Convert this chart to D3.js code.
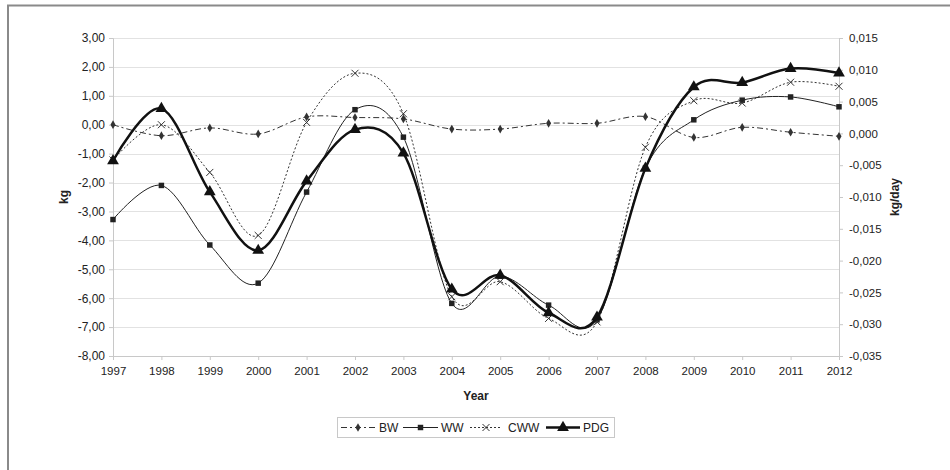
<!DOCTYPE html>
<html>
<head>
<meta charset="utf-8">
<script src="https://cdn.jsdelivr.net/npm/d3@7"></script>
<style>
  body { margin: 0; background: #fff; }
  svg { font-family: "Liberation Sans", Arial, sans-serif; }
</style>
</head>
<body>
<svg id="chart" width="950" height="470"></svg>
<script>
const years = [1997, 1998, 1999, 2000, 2001, 2002, 2003, 2004, 2005, 2006, 2007, 2008, 2009, 2010, 2011, 2012];

// kg (left axis)
const bw  = [0.00, -0.38, -0.11, -0.32, 0.27, 0.25, 0.20, -0.15, -0.15, 0.05, 0.05, 0.28, -0.44, -0.09, -0.26, -0.40];
const ww  = [-3.28, -2.10, -4.16, -5.48, -2.33, 0.52, -0.43, -6.18, -5.24, -6.24, -6.75, -1.50, 0.17, 0.85, 0.96, 0.62];
const cww = [-1.22, 0.00, -1.65, -3.83, 0.08, 1.78, 0.38, -5.95, -5.43, -6.70, -6.82, -0.78, 0.83, 0.75, 1.47, 1.33];
// kg/day (right axis)
const pdg = [-0.0043, 0.0039, -0.0092, -0.0184, -0.0075, 0.0006, -0.0031, -0.0245, -0.0223, -0.0282, -0.0289, -0.0055, 0.0073, 0.0080, 0.0102, 0.0095];

const leftTicks = d3.range(-8, 3.01, 1);
const rightTicks = d3.range(-0.035, 0.0151, 0.005);

const margin = { top: 38, left: 113, right: 111, bottom: 114 };
const width = 950, height = 470;
const innerW = width - margin.left - margin.right;
const innerH = height - margin.top - margin.bottom;

const svg = d3.select('#chart');

// outer frame (left and top edges visible)
svg.append('path')
  .attr('d', `M8,470 V5.5 H950`)
  .attr('fill', 'none')
  .attr('stroke', '#8a8a8a')
  .attr('stroke-width', 2);

const g = svg.append('g').attr('transform', `translate(${margin.left},${margin.top})`);

const x = d3.scaleLinear().domain([1997, 2012]).range([0, innerW]);
const yL = d3.scaleLinear().domain([-8, 3]).range([innerH, 0]);
const yR = d3.scaleLinear().domain([-0.035, 0.015]).range([innerH, 0]);

const fmt2 = v => d3.format('.2f')(v).replace('.', ',').replace('−', '-');
const fmt3 = v => d3.format('.3f')(Math.abs(v) < 1e-9 ? 0 : v).replace('.', ',').replace('−', '-');

// gridlines
g.append('g').selectAll('line')
  .data(leftTicks.filter(t => t > -8))
  .join('line')
  .attr('x1', 0).attr('x2', innerW)
  .attr('y1', d => Math.round(yL(d)) + 0.5).attr('y2', d => Math.round(yL(d)) + 0.5)
  .attr('stroke', '#e2e2e2');

// axes
const axL = g.append('g')
  .call(d3.axisLeft(yL).tickValues(leftTicks).tickFormat(fmt2).tickSize(4).tickPadding(4));
const axR = g.append('g').attr('transform', `translate(${innerW},0)`)
  .call(d3.axisRight(yR).tickValues(rightTicks).tickFormat(fmt3).tickSize(4).tickPadding(6));
const axB = g.append('g').attr('transform', `translate(0,${innerH})`)
  .call(d3.axisBottom(x).tickValues(years).tickFormat(d3.format('d')).tickSize(4).tickPadding(7));

[axL, axR, axB].forEach(a => {
  a.select('.domain').attr('stroke', '#c8c8c8');
  a.selectAll('.tick line').attr('stroke', '#c8c8c8');
  a.selectAll('text').attr('fill', '#222').style('font-size', '11.5px');
});
axL.selectAll('text').style('font-size', '12px');

// axis titles
g.append('text')
  .attr('transform', `translate(${-45},${innerH / 2}) rotate(-90)`)
  .attr('text-anchor', 'middle')
  .style('font-size', '12px').style('font-weight', 'bold').attr('fill', '#222')
  .text('kg');
g.append('text')
  .attr('transform', `translate(${innerW + 60},${innerH / 2}) rotate(-90)`)
  .attr('text-anchor', 'middle')
  .style('font-size', '12px').style('font-weight', 'bold').attr('fill', '#222')
  .text('kg/day');
g.append('text')
  .attr('x', innerW / 2).attr('y', innerH + 44)
  .attr('text-anchor', 'middle')
  .style('font-size', '12px').style('font-weight', 'bold').attr('fill', '#222')
  .text('Year');

// series
const series = [
  { name: 'BW', values: bw, y: yL, dash: '6,3,2,3', width: 1, color: '#333', symbol: d3.symbolDiamond, size: 22 },
  { name: 'WW', values: ww, y: yL, dash: null, width: 1, color: '#222', symbol: d3.symbolSquare, size: 30 },
  { name: 'CWW', values: cww, y: yL, dash: '2,2', width: 1, color: '#333', symbol: 'x', size: 3.5 },
  { name: 'PDG', values: pdg, y: yR, dash: null, width: 2.5, color: '#111', symbol: d3.symbolTriangle, size: 60 }
];

function drawMarker(sel, s) {
  if (s.symbol === 'x') {
    const r = s.size;
    sel.append('path')
      .attr('d', `M${-r},${-r}L${r},${r}M${-r},${r}L${r},${-r}`)
      .attr('stroke', s.color).attr('stroke-width', 1).attr('fill', 'none');
  } else {
    sel.append('path')
      .attr('d', d3.symbol().type(s.symbol).size(s.size)())
      .attr('fill', s.color);
  }
}

series.forEach(s => {
  const line = d3.line()
    .x((d, i) => x(years[i]))
    .y(d => s.y(d))
    .curve(d3.curveCardinal.tension(0));
  g.append('path')
    .datum(s.values)
    .attr('d', line)
    .attr('fill', 'none')
    .attr('stroke', s.color)
    .attr('stroke-width', s.width)
    .attr('stroke-dasharray', s.dash);
  g.append('g').selectAll('g')
    .data(s.values)
    .join('g')
    .attr('transform', (d, i) => `translate(${x(years[i])},${s.y(d)})`)
    .each(function () { drawMarker(d3.select(this), s); });
});

// legend
const legend = svg.append('g').attr('transform', 'translate(337,417)');
legend.append('rect')
  .attr('x', 0.5).attr('y', 0.5).attr('width', 277).attr('height', 20)
  .attr('fill', '#fff').attr('stroke', '#c8c8c8');
const legendPos = [
  { x1: 4, x2: 38, tx: 42 },
  { x1: 66, x2: 101, tx: 104 },
  { x1: 133, x2: 165, tx: 171 },
  { x1: 209, x2: 243, tx: 246 }
];
series.forEach((s, i) => {
  const p = legendPos[i];
  const item = legend.append('g').attr('transform', 'translate(0,10.5)');
  item.append('line')
    .attr('x1', p.x1).attr('x2', p.x2)
    .attr('stroke', s.color).attr('stroke-width', s.width)
    .attr('stroke-dasharray', s.dash);
  const m = item.append('g').attr('transform', `translate(${(p.x1 + p.x2) / 2},0)`);
  drawMarker(m, s);
  item.append('text')
    .attr('x', p.tx).attr('y', 4.5)
    .style('font-size', '12px').attr('fill', '#222')
    .text(s.name);
});
</script>
</body>
</html>
